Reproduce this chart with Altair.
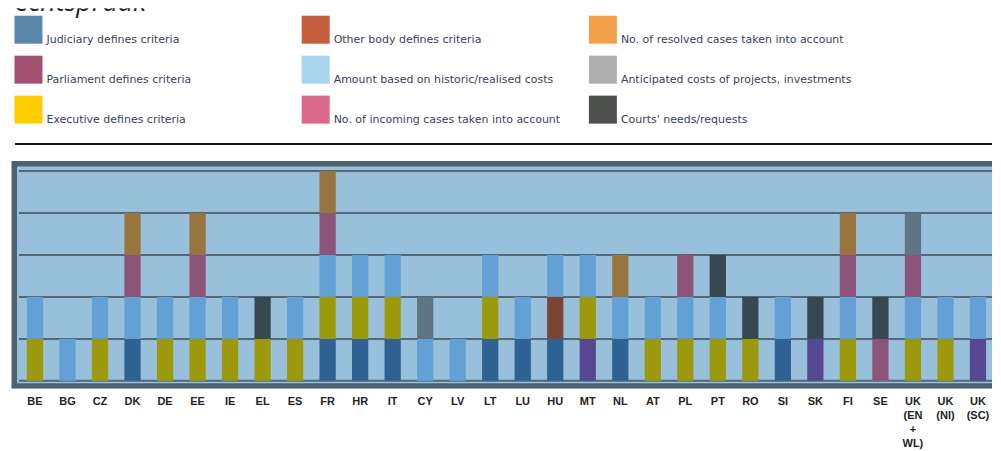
import altair as alt
import pandas as pd

# ---------------- data ----------------
countries = ["BE", "BG", "CZ", "DK", "DE", "EE", "IE", "EL", "ES", "FR",
             "HR", "IT", "CY", "LV", "LT", "LU", "HU", "MT", "NL", "AT",
             "PL", "PT", "RO", "SI", "SK", "FI", "SE",
             "UK (EN+WL)", "UK (NI)", "UK (SC)"]

multi_line_labels = {
    "UK (EN+WL)": ["UK", "(EN", "+", "WL)"],
    "UK (NI)": ["UK", "(NI)"],
    "UK (SC)": ["UK", "(SC)"],
}

categories = [
    "Judiciary defines criteria",
    "Parliament defines criteria",
    "Executive defines criteria",
    "Other body defines criteria",
    "Amount based on historic/realised costs",
    "No. of incoming cases taken into account",
    "No. of resolved cases taken into account",
    "Anticipated costs of projects, investments",
    "Courts' needs/requests",
]
codes = ["J", "P", "E", "O", "A", "I", "R", "N", "C"]

# criteria used by each country, bottom -> top
stacks = [
    "E A", "A", "E A", "J A P R", "E A", "E A P R", "E A", "E C", "E A", "J E A P R",
    "J E A", "J E A", "A N", "A", "J E A", "J A", "J O A", "I E A", "J A R", "E A",
    "E A P", "E A C", "E C", "J A", "I C", "E A P R", "P C",
    "E A P N", "E A", "I A",
]

grid_levels = [0, 1, 2, 3, 4, 5]
title_text = ["rechtspraak"]

# ---------------- styles ----------------
legend_colors = ["#5a87ad", "#a2506f", "#ffcc00", "#c55d3c", "#a8d4ee",
                 "#d9688a", "#f4a04b", "#aeaeae", "#4e504e"]
bar_colors = ["#2f6292", "#8c5478", "#9c9a0c", "#7c4433", "#62a0d6",
              "#554890", "#98753e", "#5e7585", "#364850"]
BG = "#98c0da"
FRAME = "#4d6270"
GRID = "#53697a"
FONT = "Liberation Sans"

W = 983
H_LEG = 153
H_MAIN = 228
STEP = 32.55

# ---------------- tables ----------------
code_to_cat = dict(zip(codes, categories))
rows = []
for c, s in zip(countries, stacks):
    for lvl, code in enumerate(s.split()):
        rows.append({"country": c, "category": code_to_cat[code], "lo": lvl, "hi": lvl + 1})
bars_df = pd.DataFrame(rows)

leg_df = pd.DataFrame({
    "category": categories,
    "col": [i // 3 for i in range(len(categories))],
    "row": [i % 3 for i in range(len(categories))],
})

# label expression for multi-line tick labels
expr = "datum.value"
for key, lines in multi_line_labels.items():
    arr = "[" + ",".join("'" + l + "'" for l in lines) + "]"
    expr = f"datum.value == '{key}' ? {arr} : ({expr})"

# ---------------- legend part ----------------
lx = alt.X("col:O", scale=alt.Scale(type="point", range=[18.5, 593.5], padding=0), axis=None)
ly = alt.Y("row:O", scale=alt.Scale(type="point", range=[21.5, 101.5], padding=0), axis=None)

squares = alt.Chart(leg_df).mark_square(size=784, opacity=1, filled=True).encode(
    x=lx, y=ly,
    color=alt.Color("category:N", scale=alt.Scale(domain=categories, range=legend_colors), legend=None),
)
leg_text = alt.Chart(leg_df).mark_text(
    align="left", baseline="alphabetic", dx=18, dy=13, font="DejaVu Sans", fontSize=11, color="#3b3f58"
).encode(x=lx, y=ly, text="category:N")

sep = alt.Chart(pd.DataFrame({"k": [0]})).mark_rule(color="#111111", strokeWidth=2).encode(
    x=alt.value(5), x2=alt.value(W), y=alt.value(136)
)
title = alt.Chart(pd.DataFrame({"t": title_text})).mark_text(
    align="left", baseline="alphabetic", font="Open Sans", fontStyle="italic",
    fontSize=27, color="#222222", clip=True
).encode(x=alt.value(-6), y=alt.value(3), text="t:N")

legend = alt.layer(squares, leg_text, sep, title).properties(width=W, height=H_LEG)

# ---------------- main part ----------------
rx0 = 25 - STEP / 2
xscale = alt.Scale(domain=countries, range=[rx0, rx0 + 30 * STEP], paddingInner=0.5, paddingOuter=0.25)
yscale = alt.Scale(domain=[0, 5], range=[220, 10], nice=False, zero=False)

frame = alt.Chart(pd.DataFrame({"k": [0]})).mark_rect(
    fill=BG, stroke=FRAME, strokeWidth=5.5, clip=True
).encode(x=alt.value(4.25), x2=alt.value(W + 20), y=alt.value(2.75), y2=alt.value(225.25))

grid = alt.Chart(pd.DataFrame({"level": grid_levels})).mark_rule(color=GRID, strokeWidth=2).encode(
    y=alt.Y("level:Q", scale=yscale, axis=None), x=alt.value(9), x2=alt.value(W)
)

bars = alt.Chart(bars_df).mark_bar().encode(
    x=alt.X("country:N", scale=xscale, sort=countries,
            axis=alt.Axis(title=None, domain=False, ticks=False, labelAngle=0, labelFont=FONT,
                          labelFontWeight="bold", labelFontSize=11, labelColor="#222222",
                          labelPadding=7, labelBaseline="top", labelLineHeight=14,
                          labelOverlap=False, labelExpr=expr)),
    y=alt.Y("lo:Q", scale=yscale, axis=None),
    y2="hi:Q",
    color=alt.Color("category:N", scale=alt.Scale(domain=categories, range=bar_colors), legend=None),
)

main = alt.layer(frame, grid, bars).properties(width=W, height=H_MAIN)

chart = alt.vconcat(legend, main, spacing=0).resolve_scale(
    color="independent", x="independent", y="independent"
).properties(
    padding={"left": 2, "top": 0, "right": 0, "bottom": 0}
).configure_view(strokeWidth=0)

chart.save("out.html", embed_options={"renderer": "svg", "actions": False})
